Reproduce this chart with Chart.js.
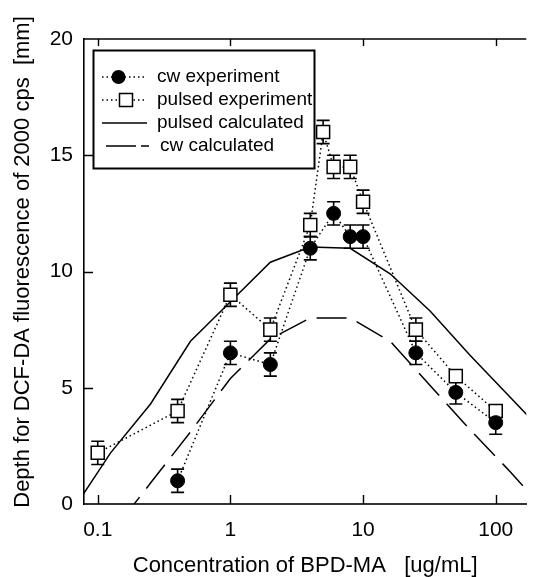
<!DOCTYPE html>
<html>
<head>
<meta charset="utf-8">
<script src="https://cdn.jsdelivr.net/npm/chart.js@4.4.0/dist/chart.umd.min.js"></script>
<style>
  html, body { margin: 0; padding: 0; background: #fff; }
  #wrap { width: 537px; height: 577px; }
</style>
</head>
<body>
<div id="wrap"><canvas id="chart"></canvas></div>
<script>
// measured depths vs. BPD-MA concentration
const concPulsed = [0.1, 0.4, 1, 2, 4, 5, 6, 8, 10, 25, 50, 100];
const depthPulsed = [2.2, 4.0, 9.0, 7.5, 12.0, 16.0, 14.5, 14.5, 13.0, 7.5, 5.5, 4.0];
const errPulsed = [0.5, 0.5, 0.5, 0.5, 0.5, 0.5, 0.5, 0.5, 0.5, 0.5, 0.2, 0.2];

const concCw = [0.4, 1, 2, 4, 6, 8, 10, 25, 50, 100];
const depthCw = [1.0, 6.5, 6.0, 11.0, 12.5, 11.5, 11.5, 6.5, 4.8, 3.5];
const errCw = [0.5, 0.5, 0.5, 0.5, 0.5, 0.5, 0.5, 0.5, 0.5, 0.5];

// model curves
const concCalc = [0.0625, 0.125, 0.25, 0.5, 1, 2, 4, 8, 16, 32, 64, 128, 256];
const pulsedCalc = [-0.4, 2.2, 4.3, 7.0, 8.7, 10.4, 11.05, 11.0, 9.9, 8.3, 6.4, 4.6, 2.8];
const cwCalc = [-3.5, -1.3, 0.9, 3.1, 5.4, 7.1, 8.0, 8.0, 7.0, 5.1, 3.2, 1.4, -0.5];

const X_TICKS = [0.1, 1, 10, 100];
const Y_TICKS = [0, 5, 10, 15, 20];

const LEGEND_LABELS = ['cw experiment', 'pulsed experiment', 'pulsed calculated', 'cw calculated'];
const X_TITLE = 'Concentration of BPD-MA   [ug/mL]';
const Y_TITLE = 'Depth for DCF-DA fluorescence of 2000 cps  [mm]';

const FONT = '"Liberation Sans", Arial, Helvetica, sans-serif';
const INK = '#000';
const DOTS = [1.5, 3];
const DASH = [30, 11];

function pts(xs, ys) {
  return xs.map((x, i) => ({ x: x, y: ys[i] }));
}

function drawErrorBars(ctx, xs, ys, errs, xScale, yScale) {
  ctx.strokeStyle = INK;
  ctx.lineWidth = 1.6;
  xs.forEach((x, i) => {
    const px = xScale.getPixelForValue(x);
    const top = yScale.getPixelForValue(ys[i] + errs[i]);
    const bot = yScale.getPixelForValue(ys[i] - errs[i]);
    ctx.beginPath();
    ctx.moveTo(px, top);
    ctx.lineTo(px, bot);
    ctx.moveTo(px - 6.5, top);
    ctx.lineTo(px + 6.5, top);
    ctx.moveTo(px - 6.5, bot);
    ctx.lineTo(px + 6.5, bot);
    ctx.stroke();
  });
}

const frame = {
  id: 'frame',
  beforeDatasetsDraw(chart) {
    const { ctx, scales } = chart;
    ctx.save();
    drawErrorBars(ctx, concPulsed, depthPulsed, errPulsed, scales.x, scales.y);
    drawErrorBars(ctx, concCw, depthCw, errCw, scales.x, scales.y);
    ctx.restore();
  },
  afterDraw(chart) {
    const { ctx, chartArea: a, scales } = chart;
    ctx.save();

    // top spine
    ctx.strokeStyle = INK;
    ctx.lineWidth = 1.6;
    ctx.beginPath();
    ctx.moveTo(a.left, a.top);
    ctx.lineTo(a.right, a.top);
    ctx.stroke();

    // inward tick marks
    ctx.lineWidth = 1.4;
    ctx.beginPath();
    X_TICKS.forEach((v) => {
      const px = Math.round(scales.x.getPixelForValue(v)) + 0.5;
      ctx.moveTo(px, a.bottom);
      ctx.lineTo(px, a.bottom - 9);
      ctx.moveTo(px, a.top);
      ctx.lineTo(px, a.top + 7);
    });
    Y_TICKS.slice(1, -1).forEach((v) => {
      const py = Math.round(scales.y.getPixelForValue(v)) + 0.5;
      ctx.moveTo(a.left, py);
      ctx.lineTo(a.left + 9, py);
    });
    ctx.stroke();

    // legend box
    const box = { x: 93.5, y: 50.5, w: 221, h: 118 };
    ctx.fillStyle = '#fff';
    ctx.fillRect(box.x, box.y, box.w, box.h);
    ctx.lineWidth = 2;
    ctx.strokeRect(box.x, box.y, box.w, box.h);

    const rows = [77, 100, 123, 146];
    ctx.lineWidth = 1.5;
    ctx.setLineDash(DOTS);
    [0, 1].forEach((r) => {
      ctx.beginPath();
      ctx.moveTo(102, rows[r]);
      ctx.lineTo(144, rows[r]);
      ctx.stroke();
    });
    ctx.setLineDash([]);
    ctx.beginPath();
    ctx.moveTo(102, rows[2]);
    ctx.lineTo(147, rows[2]);
    ctx.stroke();
    ctx.setLineDash([30, 5]);
    ctx.beginPath();
    ctx.moveTo(106, rows[3]);
    ctx.lineTo(149, rows[3]);
    ctx.stroke();
    ctx.setLineDash([]);

    ctx.fillStyle = INK;
    ctx.beginPath();
    ctx.arc(118.5, rows[0], 7, 0, Math.PI * 2);
    ctx.fill();
    ctx.fillStyle = '#fff';
    ctx.fillRect(119.5, rows[1] - 6.5, 13, 13);
    ctx.strokeRect(119.5, rows[1] - 6.5, 13, 13);

    ctx.fillStyle = INK;
    ctx.font = '19px ' + FONT;
    ctx.textBaseline = 'middle';
    ctx.textAlign = 'left';
    ctx.fillText(LEGEND_LABELS[0], 157, rows[0]);
    ctx.fillText(LEGEND_LABELS[1], 157, rows[1]);
    ctx.fillText(LEGEND_LABELS[2], 157, rows[2]);
    ctx.fillText(LEGEND_LABELS[3], 160, rows[3]);

    // y axis title
    ctx.font = '22px ' + FONT;
    ctx.textAlign = 'center';
    ctx.translate(23, 262);
    ctx.rotate(-Math.PI / 2);
    ctx.fillText(Y_TITLE, 0, 0);
    ctx.restore();
  }
};

new Chart(document.getElementById('chart'), {
  type: 'line',
  data: {
    datasets: [
      {
        label: LEGEND_LABELS[0],
        data: pts(concCw, depthCw),
        borderColor: INK,
        borderWidth: 1.5,
        borderDash: DOTS,
        pointStyle: 'circle',
        pointRadius: 7,
        pointBackgroundColor: INK,
        pointBorderColor: INK,
        pointBorderWidth: 1,
        fill: false,
        tension: 0,
      },
      {
        label: LEGEND_LABELS[1],
        data: pts(concPulsed, depthPulsed),
        borderColor: INK,
        borderWidth: 1.5,
        borderDash: DOTS,
        pointStyle: 'rect',
        pointRadius: 9.2,
        pointBackgroundColor: '#fff',
        pointBorderColor: INK,
        pointBorderWidth: 1.5,
        fill: false,
        tension: 0,
      },
      {
        label: LEGEND_LABELS[2],
        data: pts(concCalc, pulsedCalc),
        borderColor: INK,
        borderWidth: 1.5,
        pointRadius: 0,
        fill: false,
        tension: 0,
      },
      {
        label: LEGEND_LABELS[3],
        data: pts(concCalc, cwCalc),
        borderColor: INK,
        borderWidth: 1.5,
        borderDash: DASH,
        pointRadius: 0,
        fill: false,
        tension: 0,
      },
    ],
  },
  options: {
    responsive: true,
    maintainAspectRatio: false,
    animation: false,
    layout: { padding: { top: 39, right: 0, left: 0, bottom: 0 } },
    plugins: { legend: { display: false }, tooltip: { enabled: false } },
    scales: {
      x: {
        type: 'logarithmic',
        min: 0.0788,
        max: 170,
        afterBuildTicks: (scale) => { scale.ticks = X_TICKS.map((v) => ({ value: v })); },
        afterFit: (scale) => { scale.height = 73; },
        ticks: {
          callback: (v) => String(v),
          color: INK,
          padding: 14,
          maxRotation: 0,
          autoSkip: false,
          font: { family: FONT, size: 21 },
        },
        grid: { display: false, drawTicks: false },
        border: { display: true, color: '#333', width: 2 },
        title: {
          display: true,
          text: X_TITLE,
          color: INK,
          font: { family: FONT, size: 22, lineHeight: 1 },
          padding: { top: 0, bottom: 0 },
        },
      },
      y: {
        type: 'linear',
        min: 0,
        max: 20,
        afterBuildTicks: (scale) => { scale.ticks = Y_TICKS.map((v) => ({ value: v })); },
        afterFit: (scale) => { scale.width = 84; },
        ticks: {
          color: INK,
          padding: 11,
          font: { family: FONT, size: 21 },
        },
        grid: { display: false, drawTicks: false },
        border: { display: true, color: INK, width: 1.6 },
      },
    },
  },
  plugins: [frame],
});
</script>
</body>
</html>
